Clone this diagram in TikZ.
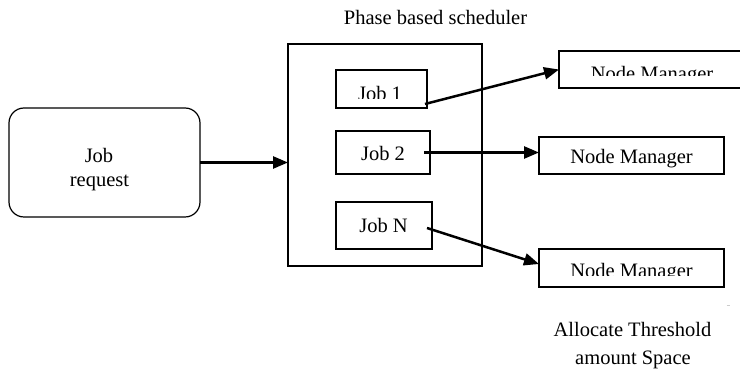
\documentclass[tikz,border=0pt]{standalone}
\usepackage{fontspec}
\setmainfont{Liberation Serif}
\usetikzlibrary{arrows.meta,calc}
\begin{document}
\begin{tikzpicture}[x=1pt,y=-1pt,
  box/.style={draw,line width=1.2pt,inner sep=0pt,outer sep=0pt},
  lbl/.style={font=\fontsize{20.5}{24}\selectfont,inner sep=0pt,anchor=base},
  arr/.style={line width=2.5pt,-{Triangle[length=15pt,width=12pt]}}]
\useasboundingbox (0,0) rectangle (740,371);
\clip (0,0) rectangle (740,371);

% frames
\node[box,rounded corners=15pt,minimum width=191pt,minimum height=109pt] (req) at (104.5,162.5) {};
\node[box,minimum width=194pt,minimum height=222pt] (sched) at (385,155) {};
\node[box,minimum width=91pt,minimum height=38pt] (j1) at (381.5,89) {};
\node[box,minimum width=94pt,minimum height=43pt] (j2) at (383,152.5) {};
\node[box,minimum width=96pt,minimum height=47pt] (jn) at (384,225.5) {};
\node[box,minimum width=185pt,minimum height=37pt] (nm1) at (651.5,69.5) {};
\node[box,minimum width=185pt,minimum height=37pt] (nm2) at (631.5,155.5) {};
\node[box,minimum width=185pt,minimum height=38pt] (nm3) at (631.5,268) {};

% labels
\node[lbl] (title) at (435.5,25) {Phase based scheduler};
\node[lbl] (reqa) at (99,163) {Job};
\node[lbl] (reqb) at (99.5,187) {request};
\node[lbl] (t2) at (383,161) {Job 2};
\node[lbl] (tn) at (383.5,233) {Job N};
\node[lbl] (tm2) at (631.5,164) {Node Manager};
\node[lbl] (alloc1) at (632.5,337) {Allocate Threshold};
\node[lbl] (alloc2) at (633,365) {amount Space};

% labels whose lower part is hidden by their text frames
\begin{scope}
  \clip (300,60) rectangle (460,98.5);
  \node[lbl] (t1) at (380,101) {Job 1};
\end{scope}
\begin{scope}
  \clip (560,55) rectangle (740,76);
  \node[lbl] (tm1) at (652,81) {Node Manager};
\end{scope}
\begin{scope}
  \clip (545,252) rectangle (720,276);
  \node[lbl] (tm3) at (631.5,278) {Node Manager};
\end{scope}

% small stray mark
\draw[gray!40,line width=0.8pt] (726.5,305) -- (730,305);

% connectors
\draw[arr] (req.east) -- (req.east -| sched.west);
\draw[arr] ($(j1.east)+(-2,15)$) -- (nm1.west);
\coordinate (s2) at ($(j2.east)+(-6,0)$);
\draw[arr] (s2) -- (s2 -| nm2.west);
\draw[arr] ($(jn.east)+(-5,2.5)$) -- ($(nm3.west)+(0,-4)$);
\end{tikzpicture}
\end{document}
